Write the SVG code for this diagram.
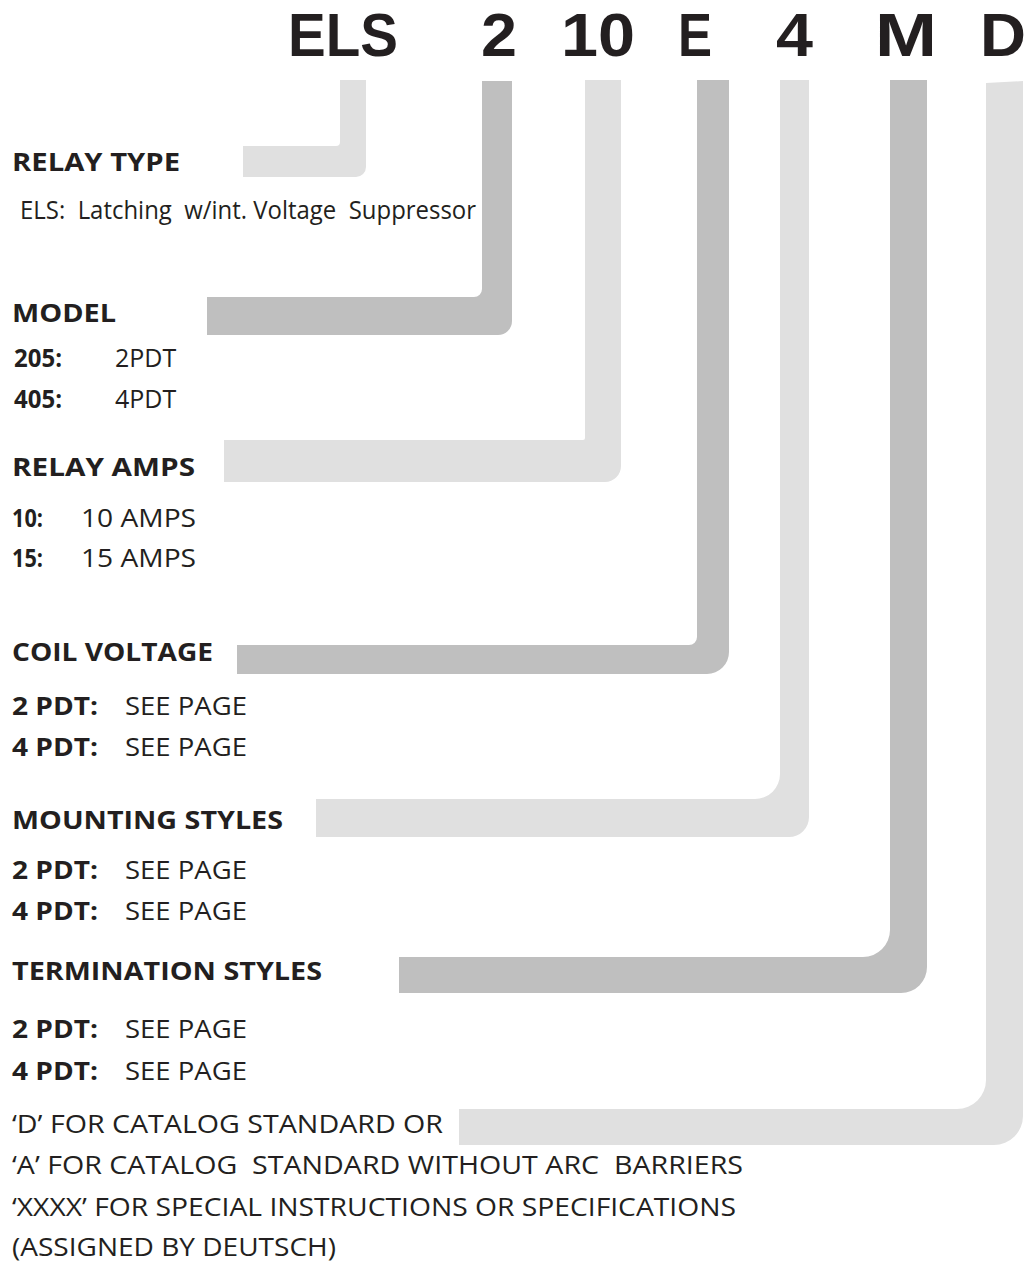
<svg xmlns="http://www.w3.org/2000/svg" width="1029" height="1262" viewBox="0 0 1029 1262">
<style>
  text { fill: #231f20; font-family: "Open Sans", "Liberation Sans", sans-serif; white-space: pre; }
  .title { font-family: "Liberation Sans", "Arial", sans-serif; font-weight: bold; font-size: 61px; }
  .h { font-weight: bold; font-size: 25px; }
  .b { font-size: 25px; }
  .bb { font-size: 25px; font-weight: bold; }
  .light { fill: #e0e0e0; }
  .dark { fill: #bfbfbf; }
</style>
<rect width="1029" height="1262" fill="#ffffff"/>

<g id="connectors">
  <path class="light" d="M243,146 H336 A4,4 0 0 0 340,142 V80 H366 V167 A10,10 0 0 1 356,177 H243 Z"/>
  <path class="dark" d="M207,297 H474 A8,8 0 0 0 482,289 V81 H512 V321 A14,14 0 0 1 498,335 H207 Z"/>
  <path class="light" d="M224,440 H583 A2,2 0 0 0 585,438 V80 H621 V466 A16,16 0 0 1 605,482 H224 Z"/>
  <path class="dark" d="M237,645 H689 A8,8 0 0 0 697,637 V80 H729 V652 A22,22 0 0 1 707,674 H237 Z"/>
  <path class="light" d="M316,799 H755 A25,25 0 0 0 780,774 V80 H809 V817 A20,20 0 0 1 789,837 H316 Z"/>
  <path class="dark" d="M399,957 H863 A27,27 0 0 0 890,930 V80 H927 V967 A26,26 0 0 1 901,993 H399 Z"/>
  <path class="light" d="M459,1109 H957 A29,29 0 0 0 986,1080 V83 L1023,81 V1116 A29,29 0 0 1 994,1145 H459 Z"/>
</g>

<g id="part-number">
  <text class="title" x="288" y="56" textLength="110" lengthAdjust="spacingAndGlyphs">ELS</text>
  <text class="title" x="481" y="56" textLength="36" lengthAdjust="spacingAndGlyphs">2</text>
  <text class="title" x="561" y="56" textLength="74" lengthAdjust="spacingAndGlyphs">10</text>
  <text class="title" x="678" y="56" textLength="34" lengthAdjust="spacingAndGlyphs">E</text>
  <text class="title" x="776" y="56" textLength="37" lengthAdjust="spacingAndGlyphs">4</text>
  <text class="title" x="875" y="56" textLength="62" lengthAdjust="spacingAndGlyphs">M</text>
  <text class="title" x="980" y="56" textLength="46" lengthAdjust="spacingAndGlyphs">D</text>
</g>

<g id="relay-type">
  <text class="h" x="12" y="171" textLength="168" lengthAdjust="spacingAndGlyphs">RELAY TYPE</text>
  <text class="b" x="20" y="219" font-size="23" textLength="456" lengthAdjust="spacingAndGlyphs">ELS:  Latching  w/int. Voltage  Suppressor</text>
</g>

<g id="model">
  <text class="h" x="12" y="322" textLength="104" lengthAdjust="spacingAndGlyphs">MODEL</text>
  <text class="bb" x="14" y="367" textLength="48" lengthAdjust="spacingAndGlyphs">205:</text>
  <text class="b" x="115" y="367" font-size="23">2PDT</text>
  <text class="bb" x="14" y="408" textLength="48" lengthAdjust="spacingAndGlyphs">405:</text>
  <text class="b" x="115" y="408" font-size="23">4PDT</text>
</g>

<g id="relay-amps">
  <text class="h" x="12" y="476" textLength="183" lengthAdjust="spacingAndGlyphs">RELAY AMPS</text>
  <text class="bb" x="12" y="527" textLength="31" lengthAdjust="spacingAndGlyphs">10:</text>
  <text class="b" x="81" y="527" textLength="115" lengthAdjust="spacingAndGlyphs">10 AMPS</text>
  <text class="bb" x="12" y="567" textLength="31" lengthAdjust="spacingAndGlyphs">15:</text>
  <text class="b" x="81" y="567" textLength="115" lengthAdjust="spacingAndGlyphs">15 AMPS</text>
</g>

<g id="coil-voltage">
  <text class="h" x="12" y="661" textLength="201" lengthAdjust="spacingAndGlyphs">COIL VOLTAGE</text>
  <text class="bb" x="12" y="715" textLength="86" lengthAdjust="spacingAndGlyphs">2 PDT:</text>
  <text class="b" x="125" y="715" textLength="122" lengthAdjust="spacingAndGlyphs">SEE PAGE</text>
  <text class="bb" x="12" y="756" textLength="86" lengthAdjust="spacingAndGlyphs">4 PDT:</text>
  <text class="b" x="125" y="756" textLength="122" lengthAdjust="spacingAndGlyphs">SEE PAGE</text>
</g>

<g id="mounting-styles">
  <text class="h" x="12" y="829" textLength="271" lengthAdjust="spacingAndGlyphs">MOUNTING STYLES</text>
  <text class="bb" x="12" y="879" textLength="86" lengthAdjust="spacingAndGlyphs">2 PDT:</text>
  <text class="b" x="125" y="879" textLength="122" lengthAdjust="spacingAndGlyphs">SEE PAGE</text>
  <text class="bb" x="12" y="920" textLength="86" lengthAdjust="spacingAndGlyphs">4 PDT:</text>
  <text class="b" x="125" y="920" textLength="122" lengthAdjust="spacingAndGlyphs">SEE PAGE</text>
</g>

<g id="termination-styles">
  <text class="h" x="12" y="980" textLength="310" lengthAdjust="spacingAndGlyphs">TERMINATION STYLES</text>
  <text class="bb" x="12" y="1038" textLength="86" lengthAdjust="spacingAndGlyphs">2 PDT:</text>
  <text class="b" x="125" y="1038" textLength="122" lengthAdjust="spacingAndGlyphs">SEE PAGE</text>
  <text class="bb" x="12" y="1080" textLength="86" lengthAdjust="spacingAndGlyphs">4 PDT:</text>
  <text class="b" x="125" y="1080" textLength="122" lengthAdjust="spacingAndGlyphs">SEE PAGE</text>
</g>

<g id="special">
  <text class="b" x="12" y="1133" textLength="431" lengthAdjust="spacingAndGlyphs">‘D’ FOR CATALOG STANDARD OR</text>
  <text class="b" x="12" y="1174" textLength="731" lengthAdjust="spacingAndGlyphs">‘A’ FOR CATALOG  STANDARD WITHOUT ARC  BARRIERS</text>
  <text class="b" x="12" y="1216" textLength="724" lengthAdjust="spacingAndGlyphs">‘XXXX’ FOR SPECIAL INSTRUCTIONS OR SPECIFICATIONS</text>
  <text class="b" x="12" y="1256" textLength="324" lengthAdjust="spacingAndGlyphs">(ASSIGNED BY DEUTSCH)</text>
</g>
</svg>
